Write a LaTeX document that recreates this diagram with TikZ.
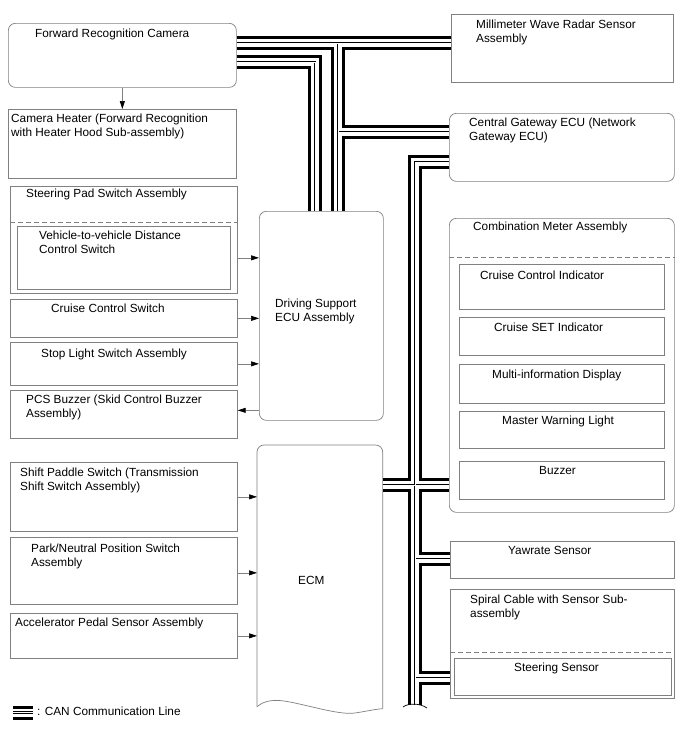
\documentclass[tikz,border=0pt]{standalone}
\usepackage{fontspec}
\setmainfont{Liberation Sans}
\usetikzlibrary{arrows.meta}

\tikzset{
  ecubox/.style={draw=black!50, line width=0.7pt, inner sep=0pt, anchor=north west},
  recubox/.style={ecubox, rounded corners=7pt},
  lbl/.style={anchor=base west, inner sep=0pt, align=left},
  boxline/.style={draw=black!50, line width=0.7pt},
  dashsep/.style={draw=black!50, line width=0.7pt, dash pattern=on 5pt off 3pt},
  sigarrow/.style={draw=black!50, line width=0.7pt, -{Triangle[length=8pt,width=5pt,color=black,fill=black]}},
}

\begin{document}
\begin{tikzpicture}[x=1pt, y=-1pt, font=\fontsize{11.8}{13.8}\selectfont]

		\fill[white] (0,0) rectangle (688,755);
		\useasboundingbox (0,0) rectangle (688,755);

		% camera and heater
		\node[recubox, minimum width=228, minimum height=64] (cam) at (8,23) {};
		\node[lbl] (camtxt) at (35,37) {Forward Recognition Camera};
		\node[ecubox, minimum width=228, minimum height=69] (heater) at (8,109) {};
		\node[lbl] (heatertxt) at (11,136) {Camera Heater (Forward Recognition\\with Heater Hood Sub-assembly)};
		\draw[sigarrow] (cam.south) -- (heater.north);

		% switches into driving support ecu
		\node[ecubox, minimum width=227, minimum height=107] (steer) at (10,186) {};
		\node[lbl] (steertxt) at (26,197) {Steering Pad Switch Assembly};
		\draw[dashsep] ([yshift=-36pt]steer.north west) -- ([yshift=-36pt]steer.north east);
		\node[ecubox, minimum width=213, minimum height=63] (vdc) at (17,226) {};
		\node[lbl] (vdctxt) at (39,253) {Vehicle-to-vehicle Distance\\Control Switch};
		\node[ecubox, minimum width=227, minimum height=38] (cruise) at (10,299) {};
		\node[lbl] (cruisetxt) at (51,312) {Cruise Control Switch};
		\node[ecubox, minimum width=227, minimum height=43] (stop) at (10,342) {};
		\node[lbl] (stoptxt) at (41,357) {Stop Light Switch Assembly};
		\node[ecubox, minimum width=227, minimum height=48] (pcs) at (10,390) {};
		\node[lbl] (pcstxt) at (26,417) {PCS Buzzer (Skid Control Buzzer\\Assembly)};

		% driving support ecu
		\node[recubox, minimum width=124, minimum height=209] (dsecu) at (259,211) {};
		\node[lbl] (dsecutxt) at (275,321) {Driving Support\\ECU Assembly};
		\draw[sigarrow] (steer.east |- vdc.east) -- (dsecu.west |- vdc.east);
		\draw[sigarrow] (cruise.east) -- (dsecu.west |- cruise.east);
		\draw[sigarrow] (stop.east) -- (dsecu.west |- stop.east);
		\draw[sigarrow] ([yshift=4pt]dsecu.west |- pcs.east) -- ([yshift=4pt]pcs.east);

		% switches into ecm
		\node[ecubox, minimum width=227, minimum height=69] (shift) at (10,462) {};
		\node[lbl] (shifttxt) at (20,490) {Shift Paddle Switch (Transmission\\Shift Switch Assembly)};
		\node[ecubox, minimum width=227, minimum height=67] (park) at (10,537) {};
		\node[lbl] (parktxt) at (31,566) {Park/Neutral Position Switch\\Assembly};
		\node[ecubox, minimum width=227, minimum height=45] (accel) at (10,613) {};
		\node[lbl] (acceltxt) at (15,626) {Accelerator Pedal Sensor Assembly};

		% ecm
		\node[ecubox, draw=none, minimum width=125, minimum height=261] (ecm) at (257,445) {};
		\draw[boxline, rounded corners=7pt] (ecm.south west) -- (ecm.north west) -- (ecm.north east) -- ([yshift=-2pt]ecm.south east);
		\draw[boxline] ([yshift=-2pt]ecm.south east) .. controls (376,709) and (368,711) .. (355,713)
			.. controls (340,715) and (315,707) .. (290,702) .. controls (275,699) and (265,700) .. (ecm.south west);
		\node[lbl] (ecmtxt) at (298,584) {ECM};
		\draw[sigarrow] (shift.east) -- (ecm.west |- shift.east);
		\draw[sigarrow] ([yshift=-2pt]park.east) -- ([yshift=-2pt]ecm.west |- park.east);
		\draw[sigarrow] (accel.east) -- (ecm.west |- accel.east);

		% radar and gateway
		\node[ecubox, minimum width=222, minimum height=68] (radar) at (451,14) {};
		\node[lbl] (radartxt) at (476,42) {Millimeter Wave Radar Sensor\\Assembly};
		\node[recubox, minimum width=225, minimum height=68] (gw) at (449,113) {};
		\node[lbl] (gwtxt) at (469,140) {Central Gateway ECU (Network\\Gateway ECU)};

		% combination meter
		\node[recubox, minimum width=225, minimum height=294] (meter) at (449,218) {};
		\node[lbl] (metertxt) at (473,230) {Combination Meter Assembly};
		\draw[dashsep] ([yshift=-39pt]meter.north west) -- ([yshift=-39pt]meter.north east);
		\node[ecubox, minimum width=205, minimum height=45] (cci) at (459,264) {};
		\node[lbl] (ccitxt) at (480,279) {Cruise Control Indicator};
		\node[ecubox, minimum width=205, minimum height=38] (cset) at (459,317) {};
		\node[lbl] (csettxt) at (494,331) {Cruise SET Indicator};
		\node[ecubox, minimum width=205, minimum height=39] (mid) at (459,364) {};
		\node[lbl] (midtxt) at (492,378) {Multi-information Display};
		\node[ecubox, minimum width=205, minimum height=37] (mwl) at (459,411) {};
		\node[lbl] (mwltxt) at (502,424) {Master Warning Light};
		\node[ecubox, minimum width=205, minimum height=38] (buzz) at (459,461) {};
		\node[lbl] (buzztxt) at (539,474) {Buzzer};

		% sensors
		\node[ecubox, minimum width=224, minimum height=37] (yaw) at (450,541) {};
		\node[lbl] (yawtxt) at (508,554) {Yawrate Sensor};
		\node[ecubox, minimum width=224, minimum height=109] (spiral) at (450,589) {};
		\node[lbl] (spiraltxt) at (470,617) {Spiral Cable with Sensor Sub-\\assembly};
		\draw[dashsep] ([yshift=-63pt]spiral.north west) -- ([yshift=-63pt]spiral.north east);
		\node[ecubox, minimum width=217, minimum height=37] (ssen) at (454,658) {};
		\node[lbl] (ssentxt) at (514,671) {Steering Sensor};

		% can bus
		\coordinate (jA) at (338,43);
		\coordinate (jG) at (338,132);
		\coordinate (cB) at (315,62);
		\coordinate (cC) at (415,162);
		\coordinate (jM) at (415,485);
		\coordinate (jY) at (415,559);
		\coordinate (jS) at (415,678);
		\coordinate (endC) at (415,705);
		\coordinate (legA) at (13,712.5);
		\coordinate (legB) at (33,712.5);
		\def\canroute{(cam.east |- jA) -- (radar.west |- jA)
			(jA) -- (jA |- dsecu.north)
			(jG) -- (gw.west |- jG)
			(cam.east |- cB) -- (cB) -- (cB |- dsecu.north)
			(gw.west |- cC) -- (cC) -- (endC)
			(ecm.east |- jM) -- (meter.west |- jM)
			(jY) -- (yaw.west |- jY)
			(jS) -- (spiral.west |- jS)
			(legA) -- (legB)}
		\foreach \w/\c in {14/black, 8/white, 2.4/black, 0.8/white}
			\draw[line width=\w pt, draw=\c] \canroute;
		\draw[line width=0.7pt] (403,707) .. controls (408,703) and (420,703) .. (427,708);

		% legend
		\node[lbl] (legtxt) at (37,715) {: CAN Communication Line};

	\end{tikzpicture}
\end{document}
